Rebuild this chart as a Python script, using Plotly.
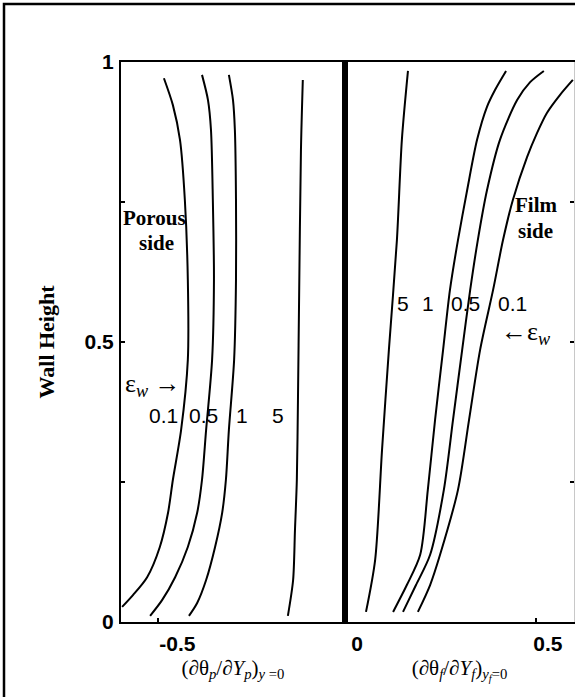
import plotly.graph_objects as go

# Porous side: wall-height samples and temperature gradient at the interface
porous_eps = ["0.1", "0.5", "1", "5"]
porous_h_01 = [0.971, 0.923, 0.861, 0.754, 0.611, 0.468, 0.343, 0.254, 0.195, 0.134, 0.080, 0.048, 0.027]
porous_g_01 = [-0.485, -0.461, -0.442, -0.429, -0.421, -0.421, -0.439, -0.461, -0.474, -0.496, -0.530, -0.568, -0.597]
porous_h_05 = [0.977, 0.932, 0.879, 0.754, 0.611, 0.468, 0.343, 0.254, 0.195, 0.134, 0.080, 0.039, 0.011]
porous_g_05 = [-0.383, -0.367, -0.359, -0.354, -0.351, -0.356, -0.372, -0.383, -0.396, -0.421, -0.455, -0.490, -0.522]
porous_h_1 = [0.977, 0.932, 0.879, 0.754, 0.611, 0.468, 0.343, 0.254, 0.195, 0.134, 0.075, 0.034, 0.011]
porous_g_1 = [-0.311, -0.300, -0.295, -0.292, -0.292, -0.297, -0.311, -0.319, -0.329, -0.348, -0.372, -0.396, -0.418]
porous_h_5 = [0.968, 0.843, 0.575, 0.396, 0.254, 0.164, 0.075, 0.011]
porous_g_5 = [-0.113, -0.118, -0.123, -0.126, -0.129, -0.134, -0.139, -0.153]

# Film side
film_eps = ["5", "1", "0.5", "0.1"]
film_h_5 = [0.984, 0.861, 0.682, 0.486, 0.307, 0.111, 0.018]
film_g_5 = [0.165, 0.149, 0.136, 0.115, 0.097, 0.079, 0.055]
film_h_1 = [0.984, 0.950, 0.920, 0.861, 0.771, 0.682, 0.593, 0.486, 0.361, 0.236, 0.120, 0.066, 0.018]
film_g_1 = [0.422, 0.393, 0.372, 0.346, 0.320, 0.296, 0.275, 0.257, 0.236, 0.217, 0.197, 0.162, 0.126]
film_h_05 = [0.984, 0.964, 0.932, 0.861, 0.771, 0.682, 0.593, 0.486, 0.361, 0.236, 0.120, 0.066, 0.018]
film_g_05 = [0.521, 0.485, 0.451, 0.406, 0.372, 0.348, 0.328, 0.307, 0.283, 0.259, 0.223, 0.186, 0.152]
film_h_01 = [0.968, 0.941, 0.909, 0.873, 0.830, 0.754, 0.682, 0.593, 0.486, 0.361, 0.236, 0.120, 0.066, 0.018]
film_g_01 = [0.597, 0.563, 0.529, 0.503, 0.477, 0.440, 0.414, 0.388, 0.354, 0.325, 0.296, 0.249, 0.223, 0.191]

# Label positions for the epsilon values
porous_lab_x = [-0.4875, -0.378, -0.276, -0.179]
porous_lab_y = 0.368
film_lab_x = [0.152, 0.217, 0.317, 0.440]
film_lab_y = 0.568

y_tickvals = [0, 0.25, 0.5, 0.75, 1]
y_ticktext = ["0", "", "0.5", "", "1"]
top_tick_left = [-0.418]
top_tick_right = [0.44]

SANS = "Liberation Sans, Arial, sans-serif"
SERIF = "Liberation Serif, Times New Roman, serif"

fig = go.Figure()

line = dict(color="black", width=2, shape="spline", smoothing=0.8)
for g, h in [(porous_g_01, porous_h_01), (porous_g_05, porous_h_05),
             (porous_g_1, porous_h_1), (porous_g_5, porous_h_5)]:
    fig.add_trace(go.Scatter(x=g, y=h, mode="lines", line=line,
                             xaxis="x", yaxis="y", showlegend=False, hoverinfo="skip"))
for g, h in [(film_g_5, film_h_5), (film_g_1, film_h_1),
             (film_g_05, film_h_05), (film_g_01, film_h_01)]:
    fig.add_trace(go.Scatter(x=g, y=h, mode="lines", line=line,
                             xaxis="x2", yaxis="y2", showlegend=False, hoverinfo="skip"))

split = 224 / 453

axis_common = dict(showgrid=False, zeroline=False, showline=True, linecolor="black",
                   linewidth=2, ticks="inside", ticklen=4, tickwidth=1.5, tickcolor="black",
                   tickfont=dict(family=SANS, size=21, color="black", weight="bold"))

top_common = dict(showgrid=False, zeroline=False, showline=False, side="top",
                  ticks="inside", ticklen=4, tickwidth=1.5, tickcolor="black",
                  showticklabels=False)

xtitle_font = dict(family=SERIF, size=21, color="black")

fig.update_layout(
    width=575, height=697, autosize=False,
    margin=dict(l=121, r=1, t=62, b=75, pad=0),
    paper_bgcolor="white", plot_bgcolor="white",
    xaxis=dict(domain=[0, split], range=[-0.6, 0], anchor="y", mirror=True,
               tickvals=[-0.5], ticktext=["-0.5"], ticklabelshift=19, ticklabelstandoff=2,
               title=dict(text="(∂θ<sub><i>p</i></sub>/∂<i>Y<sub>p</sub></i>)<sub><i>y</i> =0</sub>",
                          font=xtitle_font, standoff=6),
               **axis_common),
    xaxis2=dict(domain=[split, 1], range=[0, 0.6], anchor="y2", mirror=True,
                tickvals=[0, 0.5], ticktext=["0", "0.5"], ticklabelshift=12, ticklabelstandoff=2,
                title=dict(text="(∂θ<sub><i>f</i></sub>/∂<i>Y<sub>f</sub></i>)<sub><i>y<sub>f</sub></i>=0</sub>",
                           font=xtitle_font, standoff=6),
                **axis_common),
    xaxis3=dict(overlaying="x", anchor="y", range=[-0.6, 0], tickvals=top_tick_left, **top_common),
    xaxis4=dict(overlaying="x2", anchor="y2", range=[0, 0.6], tickvals=top_tick_right, **top_common),
    yaxis=dict(domain=[0, 1], range=[0, 1], anchor="x",
               tickvals=y_tickvals, ticktext=y_ticktext, ticklabelstandoff=1,
               title=dict(text="<b>Wall Height</b>",
                          font=dict(family=SERIF, size=22, color="black"), standoff=24),
               **axis_common),
    yaxis2=dict(domain=[0, 1], range=[0, 1], anchor="x2", side="right",
                tickvals=y_tickvals, showticklabels=False,
                **{**axis_common, "linecolor": "#c8c8c8", "linewidth": 1}),
)

# Interface line between the porous and film sides
fig.add_shape(type="line", xref="paper", yref="paper", x0=split, x1=split, y0=0, y1=1,
              line=dict(color="black", width=6), layer="above")
# Outer frame
fig.add_shape(type="rect", xref="paper", yref="paper",
              x0=-117 / 453, x1=1.2, y0=-0.3, y1=618 / 560,
              line=dict(color="black", width=2.5), layer="above")

ann = []
for t, x in zip(porous_eps, porous_lab_x):
    ann.append(dict(x=x, y=porous_lab_y, xref="x", yref="y", text=t, showarrow=False,
                    font=dict(family=SANS, size=21, color="black")))
for t, x in zip(film_eps, film_lab_x):
    ann.append(dict(x=x, y=film_lab_y, xref="x2", yref="y2", text=t, showarrow=False,
                    font=dict(family=SANS, size=21, color="black")))
ann.append(dict(x=-0.515, y=0.423, xref="x", yref="y", text="ε<sub><i>w</i></sub> <b>→</b>",
                showarrow=False, font=dict(family=SERIF, size=26, color="black")))
ann.append(dict(x=0.472, y=0.516, xref="x2", yref="y2", text="<b>←</b>ε<sub><i>w</i></sub>",
                showarrow=False, font=dict(family=SERIF, size=26, color="black")))
side_font = dict(family=SERIF, size=21, color="black")
ann.append(dict(x=-0.509, y=0.721, xref="x", yref="y", text="<b>Porous</b>",
                showarrow=False, font=side_font))
ann.append(dict(x=-0.505, y=0.677, xref="x", yref="y", text="<b>side</b>",
                showarrow=False, font=side_font))
ann.append(dict(x=0.50, y=0.745, xref="x2", yref="y2", text="<b>Film</b>",
                showarrow=False, font=side_font))
ann.append(dict(x=0.50, y=0.699, xref="x2", yref="y2", text="<b>side</b>",
                showarrow=False, font=side_font))
fig.update_layout(annotations=ann)

fig.write_html("out.html")
